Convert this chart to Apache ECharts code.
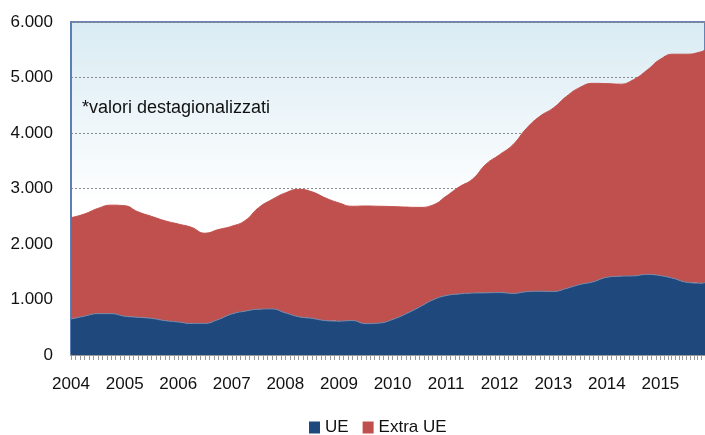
<!DOCTYPE html>
<html>
<head>
<meta charset="utf-8">
<script src="https://cdn.jsdelivr.net/npm/echarts@6/dist/echarts.min.js"></script>
<style>
html,body{margin:0;padding:0;background:#fff;}
#c{width:705px;height:435px;}
</style>
</head>
<body>
<div id="c"></div>
<script>
// Quarterly readings (YYYY-MM), seasonally adjusted values
const dates = [
  '2004-01','2004-04','2004-07','2004-10','2005-01','2005-04','2005-07','2005-10',
  '2006-01','2006-04','2006-07','2006-10','2007-01','2007-04','2007-07','2007-10',
  '2008-01','2008-04','2008-07','2008-10','2009-01','2009-04','2009-07','2009-10',
  '2010-01','2010-04','2010-07','2010-10','2011-01','2011-04','2011-07','2011-10',
  '2012-01','2012-04','2012-07','2012-10','2013-01','2013-04','2013-07','2013-10',
  '2014-01','2014-04','2014-07','2014-10','2015-01','2015-04','2015-07','2015-10','2015-11'
];
const ue = [
  649, 700, 745, 745, 700, 680, 660, 620,
  595, 568, 570, 640, 740, 790, 825, 830,
  760, 690, 660, 620, 610, 620, 565, 575,
  640, 740, 860, 990, 1070, 1100, 1115, 1120,
  1125, 1110, 1140, 1150, 1145, 1200, 1270, 1320,
  1400, 1420, 1425, 1450, 1430, 1380, 1310, 1295, 1303
];
const extraUe = [
  1825, 1840, 1895, 1955, 1990, 1900, 1840, 1800,
  1765, 1732, 1625, 1620, 1580, 1630, 1825, 1970,
  2160, 2295, 2280, 2210, 2130, 2060, 2120, 2105,
  2035, 1925, 1800, 1710, 1790, 1930, 2055, 2320,
  2485, 2680, 2940, 3150, 3305, 3460, 3550, 3575,
  3490, 3460, 3535, 3680, 3900, 4040, 4110, 4165, 4192
];
const seriesNames = ['UE', 'Extra UE'];
const yTicks = [0, 1000, 2000, 3000, 4000, 5000, 6000];
const note = '*valori destagionalizzati';

const FONT = "'Liberation Sans', Arial, sans-serif";
const YEAR = 365.25 * 24 * 3600 * 1000;
const ts = dates.map(d => d + '-01');

const chart = echarts.init(document.getElementById('c'), null, {renderer: 'canvas'});
chart.setOption({
  animation: false,
  textStyle: {fontFamily: FONT},
  grid: {
    left: 71, top: 22, right: -1, bottom: 80,
    show: true,
    borderColor: '#3f6299',
    borderWidth: 1.5,
    backgroundColor: new echarts.graphic.LinearGradient(0, 0, 0, 1, [
      {offset: 0, color: '#d9ebf3'},
      {offset: 0.55, color: '#ffffff'},
      {offset: 1, color: '#ffffff'}
    ])
  },
  title: {
    text: note,
    left: 77, top: 94,
    textStyle: {fontFamily: FONT, fontSize: 18, fontWeight: 'normal', color: '#111'}
  },
  legend: {
    data: seriesNames,
    left: 304, top: 414,
    icon: 'rect',
    itemWidth: 11, itemHeight: 12, itemGap: 14,
    textStyle: {fontFamily: FONT, fontSize: 17, color: '#111'}
  },
  xAxis: {
    type: 'time',
    min: ts[0],
    max: ts[ts.length - 1],
    minInterval: YEAR * 0.99,
    maxInterval: YEAR * 1.01,
    splitLine: {show: false},
    axisLine: {show: true, lineStyle: {color: '#9a9a9a', width: 2}},
    axisTick: {show: true, length: 5, lineStyle: {color: '#9a9a9a'}},
    minorTick: {show: true, splitNumber: 12, length: 5, lineStyle: {color: '#9a9a9a'}},
    axisLabel: {
      margin: 21,
      showMinLabel: true,
      showMaxLabel: false,
      fontFamily: FONT, fontSize: 17, color: '#111',
      formatter: '{yyyy}'
    }
  },
  yAxis: {
    type: 'value',
    min: yTicks[0],
    max: yTicks[yTicks.length - 1],
    interval: 1000,
    axisLine: {show: true, lineStyle: {color: '#5a7fb5', width: 2}},
    axisTick: {show: false},
    splitLine: {show: true, lineStyle: {color: '#8a8a8a', type: [2, 2], width: 1}},
    axisLabel: {
      margin: 18,
      fontFamily: FONT, fontSize: 17, color: '#111',
      formatter: v => v === 0 ? '0' : (v / 1000) + '.000'
    }
  },
  series: [
    {
      name: seriesNames[0], type: 'line', stack: 'tot', smooth: 0.5,
      symbol: 'none', data: ts.map((t, i) => [t, ue[i]]),
      itemStyle: {color: '#1f497d'},
      lineStyle: {width: 1, color: '#6f86a8'},
      areaStyle: {color: '#1f497d', opacity: 1}
    },
    {
      name: seriesNames[1], type: 'line', stack: 'tot', smooth: 0.5,
      symbol: 'none', data: ts.map((t, i) => [t, extraUe[i]]),
      itemStyle: {color: '#c0504d'},
      lineStyle: {width: 1, color: '#c0504d'},
      areaStyle: {color: '#c0504d', opacity: 1}
    }
  ]
});
</script>
</body>
</html>
